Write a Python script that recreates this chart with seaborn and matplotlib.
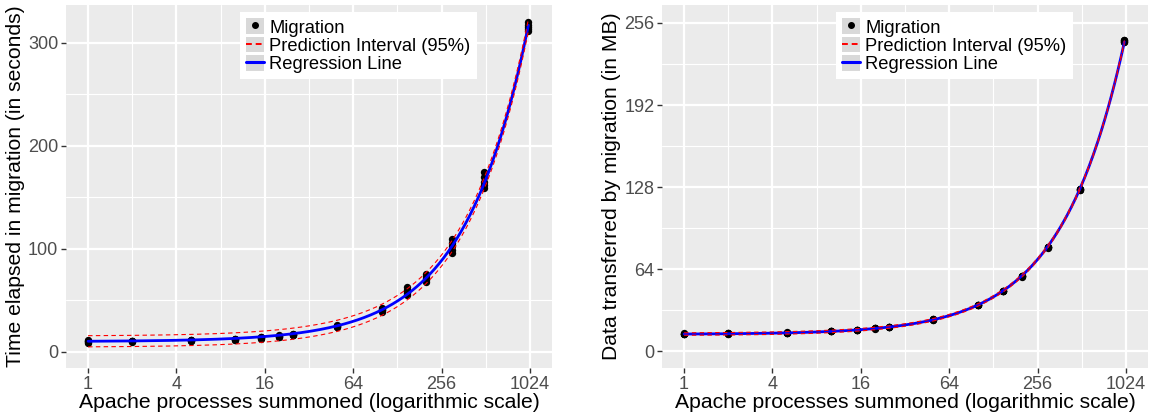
import numpy as np
import pandas as pd
import matplotlib
matplotlib.use("Agg")
import matplotlib.pyplot as plt
import seaborn as sns
from matplotlib.patches import Rectangle
from matplotlib.lines import Line2D
from matplotlib.legend_handler import HandlerTuple
from matplotlib.ticker import FixedLocator, NullFormatter

# ---------------- data ----------------
processes = [1, 2, 5, 10, 15, 20, 25, 50, 100, 150, 200, 300, 500, 1000]

time_reps = [
    [8.5, 9.5, 10.0, 10.5, 11.5],
    [9.5, 10.0, 10.5, 10.0, 10.5],
    [10.0, 11.0, 11.5, 10.5, 11.0],
    [11.5, 12.0, 12.5, 12.0, 11.5],
    [12.5, 13.5, 14.0, 13.0, 14.5],
    [14.0, 15.0, 15.5, 14.5, 16.0],
    [16.0, 16.5, 17.5, 17.0, 16.0],
    [24.0, 25.0, 25.5, 24.5, 24.0],
    [38.5, 40.0, 41.0, 42.5, 40.0],
    [55.0, 57.0, 58.5, 60.0, 63.0],
    [67.5, 69.5, 71.0, 73.0, 75.0],
    [96.0, 99.0, 102.0, 105.0, 109.0],
    [159.0, 162.0, 165.0, 169.0, 174.0],
    [311.0, 313.0, 315.0, 317.0, 320.0],
]

mb_reps = [
    [13.6, 13.8, 13.7, 13.9, 13.5],
    [13.8, 14.0, 13.9, 13.7, 14.1],
    [14.4, 14.6, 14.5, 14.3, 14.7],
    [15.6, 15.8, 15.7, 15.9, 15.5],
    [16.7, 16.9, 16.8, 17.0, 16.6],
    [17.8, 18.0, 17.9, 18.1, 17.7],
    [19.0, 19.2, 19.1, 19.3, 18.9],
    [24.8, 25.0, 24.9, 25.1, 24.7],
    [36.0, 36.3, 36.1, 36.4, 35.9],
    [47.0, 47.3, 47.1, 47.4, 46.9],
    [58.4, 58.7, 58.5, 58.8, 58.3],
    [81.0, 81.3, 81.1, 81.4, 80.9],
    [126.0, 126.4, 126.2, 126.6, 125.8],
    [241.0, 242.0, 243.0, 242.5, 241.5],
]

x_major = [1, 4, 16, 64, 256, 1024]
x_minor = [2, 8, 32, 128, 512]
x_labels = ["1", "4", "16", "64", "256", "1024"]

left_y_major = [0, 100, 200, 300]
left_y_minor = [50, 150, 250]
right_y_major = [0, 64, 128, 192, 256]
right_y_minor = [32, 96, 160, 224]

xlabel = "Apache processes summoned (logarithmic scale)"
left_ylabel = "Time elapsed in migration (in seconds)"
right_ylabel = "Data transferred by migration (in MB)"
legend_labels = ["Migration", "Prediction Interval (95%)", "Regression Line"]

# ---------------- style ----------------
sns.set_theme(style="darkgrid", rc={
    "axes.facecolor": "#EBEBEB",
    "grid.color": "white",
    "figure.facecolor": "white",
})
plt.rcParams["font.family"] = ["Liberation Sans", "DejaVu Sans"]

W, H = 1152, 417
fig = plt.figure(figsize=(W / 100, H / 100), dpi=100)


def frac(x0, x1, ytop, ybot):
    return [x0 / W, 1 - ybot / H, (x1 - x0) / W, (ybot - ytop) / H]


ax1 = fig.add_axes(frac(66, 552, 5, 368))
ax2 = fig.add_axes(frac(662, 1148, 5, 368))


def long_df(xs, reps):
    rows = []
    for x, vals in zip(xs, reps):
        for v in vals:
            rows.append((x, v))
    return pd.DataFrame(rows, columns=["x", "y"])


def fit_pi(df):
    x = df["x"].to_numpy(float)
    y = df["y"].to_numpy(float)
    n = len(x)
    b, a = np.polyfit(x, y, 1)
    resid = y - (a + b * x)
    s = np.sqrt(np.sum(resid ** 2) / (n - 2))
    xbar = x.mean()
    sxx = np.sum((x - xbar) ** 2)
    grid = np.logspace(np.log10(x.min()), np.log10(x.max()), 400)
    yhat = a + b * grid
    t = 1.995
    half = t * s * np.sqrt(1 + 1 / n + (grid - xbar) ** 2 / sxx)
    return pd.DataFrame({"x": grid, "fit": yhat, "lo": yhat - half, "hi": yhat + half})


DASH = (0, (4, 3))


def draw(ax, reps, ymaj, ymin, ylim, ylabel):
    df = long_df(processes, reps)
    fit = fit_pi(df)
    sns.scatterplot(data=df, x="x", y="y", ax=ax, color="black", s=28,
                    edgecolor="black", linewidth=0, zorder=3)
    sns.lineplot(data=fit, x="x", y="fit", ax=ax, color="#0000FF", lw=2.0,
                 zorder=4)
    sns.lineplot(data=fit, x="x", y="lo", ax=ax, color="#FF0000", lw=0.8,
                 zorder=5)
    sns.lineplot(data=fit, x="x", y="hi", ax=ax, color="#FF0000", lw=0.8,
                 zorder=5)
    ax.lines[1].set_linestyle(DASH)
    ax.lines[2].set_linestyle(DASH)
    ax.set_xscale("log", base=2)
    ax.set_xlim(2 ** -0.5, 2 ** 10.5)
    ax.set_ylim(*ylim)
    ax.xaxis.set_major_locator(FixedLocator(x_major))
    ax.set_xticklabels(x_labels)
    ax.xaxis.set_minor_locator(FixedLocator(x_minor))
    ax.xaxis.set_minor_formatter(NullFormatter())
    ax.yaxis.set_major_locator(FixedLocator(ymaj))
    ax.set_yticklabels([str(v) for v in ymaj])
    ax.yaxis.set_minor_locator(FixedLocator(ymin))
    ax.yaxis.set_minor_formatter(NullFormatter())
    ax.grid(which="major", color="white", lw=1.6)
    ax.grid(which="minor", color="white", lw=0.8)
    ax.set_axisbelow(True)
    for sp in ax.spines.values():
        sp.set_visible(False)
    ax.tick_params(which="major", length=3.5, width=1.0, color="#333333",
                   labelcolor="#4D4D4D", labelsize=13, pad=2,
                   bottom=True, left=True)
    ax.tick_params(which="minor", length=0)
    ax.set_xlabel(xlabel, fontsize=15.2, color="black", labelpad=0)
    ax.set_ylabel(ylabel, fontsize=15.2, color="black", labelpad=2)

    def key_bg():
        return Rectangle((0, 0), 1, 1, facecolor="#D9D9D9", edgecolor="none")

    h_pts = Line2D([], [], marker="o", ls="none", color="black", markersize=4)
    h_pi = Line2D([], [], color="#FF0000", lw=1.4, ls=(0, (3, 2)))
    h_reg = Line2D([], [], color="#0000FF", lw=2.2)
    leg = ax.legend(handles=[(key_bg(), h_pts), (key_bg(), h_pi), (key_bg(), h_reg)],
                    labels=legend_labels,
                    handler_map={tuple: HandlerTuple(ndivide=1, pad=0)},
                    loc="upper left", bbox_to_anchor=(0.358, 0.981),
                    borderaxespad=0, fontsize=13.2, frameon=True,
                    fancybox=False, framealpha=1, edgecolor="white",
                    handlelength=0.95, handleheight=0.95, handletextpad=0.3,
                    labelspacing=0.0, borderpad=0.35)
    leg.get_frame().set_facecolor("white")
    leg.get_frame().set_linewidth(0)
    for t in leg.get_texts():
        t.set_color("black")


draw(ax1, time_reps, left_y_major, left_y_minor, (-16, 336.5), left_ylabel)
draw(ax2, mb_reps, right_y_major, right_y_minor, (-13, 270), right_ylabel)

fig.savefig("out.png", dpi=100)
